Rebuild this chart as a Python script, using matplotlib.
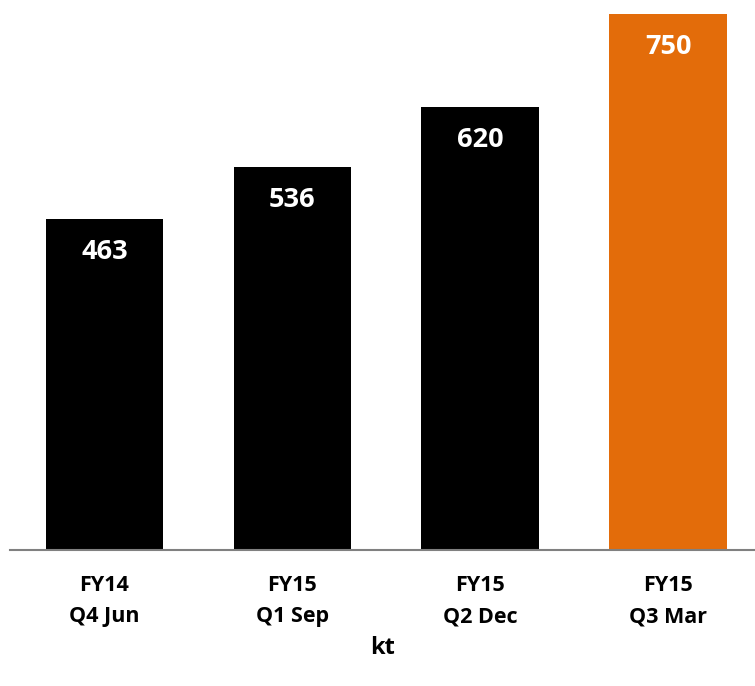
import matplotlib
matplotlib.use("Agg")
import matplotlib.pyplot as plt

categories = ["FY14\nQ4 Jun", "FY15\nQ1 Sep", "FY15\nQ2 Dec", "FY15\nQ3 Mar"]
values = [463, 536, 620, 750]
colors = ["#000000", "#000000", "#000000", "#E36C0A"]
unit_label = "kt"

plt.rcParams['font.family'] = ['Open Sans', 'DejaVu Sans']

W, H = 755, 686
fig = plt.figure(figsize=(W / 100, H / 100), dpi=100)
# axes in pixel coordinates: x 10..755, baseline at y=550 from top
ax = fig.add_axes([10 / W, (H - 550) / H, 745 / W, 550 / H])

x = list(range(len(values)))
bars = ax.bar(x, values, width=0.625, color=colors)
ax.set_xlim(-0.503, 3.463)
ax.set_ylim(0, 769)

for xi, v in zip(x, values):
    ax.text(xi, v - 47, str(v), ha='center', va='center', color='white',
            fontsize=19.5, fontweight='bold')

ax.set_xticks(x)
ax.set_xticklabels(categories, fontsize=15.5, fontweight='bold', linespacing=1.65)
ax.tick_params(axis='x', length=0, pad=18)
ax.set_yticks([])
for s in ['top', 'right', 'left']:
    ax.spines[s].set_visible(False)
ax.spines['bottom'].set_color('#808080')
ax.spines['bottom'].set_linewidth(1.5)

fig.text(383 / W, 1 - 648 / H, unit_label, ha='center', va='center',
         fontsize=17, fontweight='bold')

fig.savefig("out.png", dpi=100)
